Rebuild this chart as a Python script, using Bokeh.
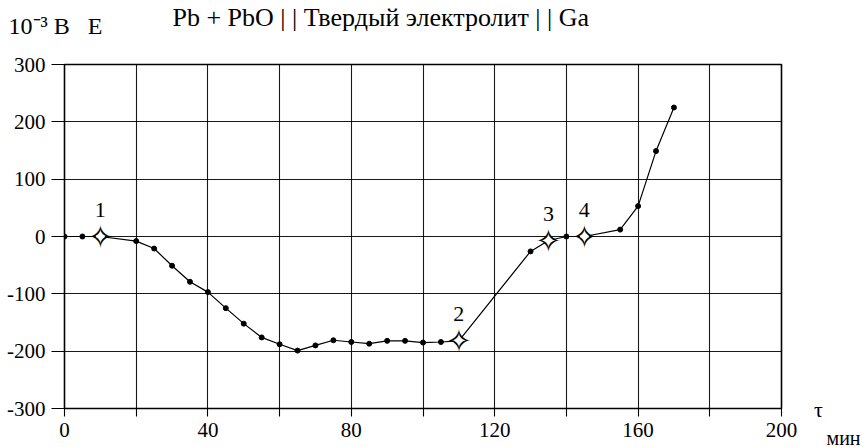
from bokeh.plotting import figure
from bokeh.models import Label, FixedTicker, Range1d, ColumnDataSource
from bokeh.core.properties import value
from bokeh.embed import file_html
from bokeh.resources import INLINE

# Time, min
tau = [0, 5, 10, 20, 25, 30, 35, 40, 45, 50, 55, 60, 65, 70, 75, 80, 85, 90,
       95, 100, 105, 110, 130, 135, 140, 145, 155, 160, 165, 170]
# EMF of the cell, 10^-3 V
emf = [0, 0, 0, -8, -21, -51, -79, -97, -125, -152, -176, -188, -199, -190,
       -181, -184, -187, -182, -182, -185, -184, -182, -26, -7, 0, 0, 12, 53,
       149, 225]

# Numbered characteristic points on the curve
marked_labels = ["1", "2", "3", "4"]
marked_tau = [10, 110, 135, 145]

x_ticks = [0, 20, 40, 60, 80, 100, 120, 140, 160, 180, 200]
x_tick_labels = ["0", "", "40", "", "80", "", "120", "", "160", "", "200"]
y_ticks = [-300, -200, -100, 0, 100, 200, 300]
y_tick_labels = ["-300", "-200", "-100", "0", "100", "200", "300"]

NBSP = "\u00a0"
title_text = "Pb + PbO | | Твердый электролит | | Ga"
y_units_text = "10⁻³ B" + NBSP * 3 + "E"
x_symbol_text = "τ"
x_units_text = "мин"

SERIF = "Liberation Serif"

marked_emf = [emf[tau.index(t)] for t in marked_tau]
dot_tau = [t for t in tau if t not in marked_tau]
dot_emf = [e for t, e in zip(tau, emf) if t not in marked_tau]

p = figure(frame_width=717, frame_height=344,
           x_range=Range1d(0, 200), y_range=Range1d(-300, 300),
           output_backend="svg", toolbar_location=None,
           min_border_left=64, min_border_right=82,
           min_border_top=64, min_border_bottom=39,
           background_fill_color="white", border_fill_color="white")

p.outline_line_color = "black"
p.outline_line_width = 1.6

# grid: every 20 min and every 100 mV
p.xaxis.ticker = FixedTicker(ticks=x_ticks)
p.yaxis.ticker = FixedTicker(ticks=y_ticks)
p.xgrid.ticker = FixedTicker(ticks=x_ticks)
p.ygrid.ticker = FixedTicker(ticks=y_ticks)
for g in (p.xgrid, p.ygrid):
    g.grid_line_color = "black"
    g.grid_line_width = 1.1
    g.grid_line_alpha = 0.9

p.xaxis.major_label_overrides = {t: s for t, s in zip(x_ticks, x_tick_labels)}
p.yaxis.major_label_overrides = {t: s for t, s in zip(y_ticks, y_tick_labels)}

for ax in (p.xaxis, p.yaxis):
    ax.axis_line_color = None
    ax.minor_tick_line_color = None
    ax.major_tick_in = 0
    ax.major_tick_line_color = "black"
    ax.major_tick_line_width = 1.1
    ax.major_label_text_font = SERIF
    ax.major_label_text_font_size = "21px"
    ax.major_label_text_color = "black"
p.xaxis.major_tick_out = 8
p.xaxis.major_label_standoff = 6
p.yaxis.major_tick_out = 13
p.yaxis.major_label_standoff = 6

# curve
p.line(tau, emf, line_color="black", line_width=1.2)
p.scatter(dot_tau, dot_emf, size=5, marker="circle",
          fill_color="black", line_color="black")

# four-pointed stars at the numbered points
src = ColumnDataSource(dict(x=marked_tau, y=marked_emf, lab=marked_labels,
                            star=["✧"] * len(marked_tau)))
p.scatter("x", "y", source=src, size=9, marker="circle",
          fill_color="white", line_color=None)
p.text("x", "y", text="star", source=src, text_font=value("DejaVu Sans"),
       text_font_size="32px", text_align="center", text_baseline="middle",
       text_color="black")
p.text("x", "y", text="lab", source=src, text_font=value(SERIF),
       text_font_size="22px", text_align="center", text_baseline="middle",
       text_color="black", y_offset=-27)


# texts around the frame, each in its own side panel
def side_label(txt, side, sx, sy, size, align="left", baseline="alphabetic"):
    p.add_layout(Label(x=sx, y=sy, x_units="screen", y_units="screen",
                       text=txt, text_font=SERIF, text_font_size=size,
                       text_align=align, text_baseline=baseline,
                       text_color="black"), side)


side_label(y_units_text, "above", -56, 39, "24px")
side_label(title_text, "above", 108, 21, "26px")
side_label(x_symbol_text, "right", 37, -1, "22px", align="center",
           baseline="middle")
side_label(x_units_text, "right", 53, -29, "20px", align="center",
           baseline="middle")

open("out.html", "w").write(file_html(p, INLINE))
